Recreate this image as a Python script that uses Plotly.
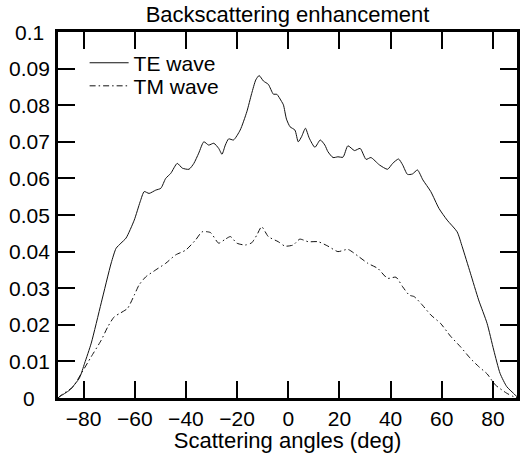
import plotly.graph_objects as go

# ---- data ----
te_angle = [-90, -89.3, -85.4, -81.6, -79.6, -77.0, -73.1, -69.2, -67.3, -65.4, -63.4,
            -60.2, -57.9, -56.3, -54.4, -51.8, -49.8, -47.9, -45.9, -43.4, -41.4, -38.8,
            -36.9, -35.0, -33.0, -31.1, -29.1, -27.2, -25.9, -24.6, -23.3, -21.4, -18.8,
            -16.2, -14.3, -12.7, -11.4, -9.7, -7.8, -5.8, -4.5, -2.6, -1.9, -0.7, 0.7,
            2.6, 3.9, 5.2, 6.7, 8.2, 10.4, 12.5, 14.3, 15.5, 17.5, 19.4, 21.4, 23.3, 25.9,
            28.1, 30.4, 32.3, 35.6, 38.8, 40.8, 43.1, 44.7, 46.6, 48.5, 50.5, 52.6, 55.7,
            58.9, 62.1, 66.0, 68.0, 71.2, 74.4, 77.7, 80.3, 82.8, 85.4, 88.0, 89.3, 90]
te_value = [0, 0.0004, 0.0022, 0.0055, 0.0095, 0.015, 0.026, 0.0369, 0.0409, 0.0423, 0.0437,
            0.0486, 0.0536, 0.0564, 0.0559, 0.0568, 0.0573, 0.0600, 0.0614, 0.0641, 0.0628, 0.0625,
            0.0641, 0.0669, 0.0700, 0.0691, 0.0696, 0.0682, 0.0666, 0.0691, 0.0708, 0.0705, 0.0732,
            0.0782, 0.0832, 0.0869, 0.0881, 0.0866, 0.0857, 0.0830, 0.0830, 0.0810, 0.0801, 0.0762, 0.0741,
            0.0732, 0.0700, 0.0714, 0.0737, 0.0710, 0.0685, 0.0705, 0.0691, 0.0673, 0.0657, 0.0659, 0.0658, 0.0689, 0.0676,
            0.0682, 0.0652, 0.0657, 0.0637, 0.0625, 0.0641, 0.0653, 0.0637, 0.0611, 0.0612, 0.0623, 0.0596, 0.0564,
            0.0518, 0.0486, 0.0454, 0.0413, 0.0341, 0.0268, 0.0204, 0.0131, 0.0067, 0.0031, 0.0013, 0.0004, 0]

tm_angle = [-90, -88.7, -84.2, -80.9, -77.0, -73.1, -70.5, -68.0, -65.4, -62.8, -60.2, -58.3,
            -55.7, -51.8, -47.9, -44.0, -40.1, -36.2, -33.7, -30.4, -27.2, -24.6, -22.6, -20.1,
            -16.8, -14.3, -12.3, -10.4, -7.8, -3.9, -1.3, 1.9, 4.5, 7.8, 11.7, 15.5, 19.4, 23.3,
            27.2, 31.1, 35.0, 38.8, 42.1, 44.7, 47.3, 49.2, 52.4, 55.7, 59.5, 63.4, 67.3, 71.2,
            74.4, 77.7, 80.9, 85.4, 88.0, 90]
tm_value = [0, 0.0008, 0.0030, 0.0067, 0.0113, 0.0158, 0.0195, 0.0222, 0.0233, 0.0245, 0.0281, 0.0309,
            0.0331, 0.0350, 0.0368, 0.0391, 0.0404, 0.0432, 0.0454, 0.0452, 0.0423, 0.0434, 0.0441, 0.0423,
            0.0418, 0.0424, 0.0445, 0.0468, 0.0441, 0.0427, 0.0415, 0.0418, 0.0434, 0.0427, 0.0427, 0.0415, 0.0400, 0.0406,
            0.0388, 0.0368, 0.0354, 0.0327, 0.0330, 0.0304, 0.0281, 0.0277, 0.0254, 0.0227, 0.0204, 0.0169, 0.0140, 0.0108,
            0.0086, 0.0066, 0.0036, 0.0013, 0.0004, 0]

x_tickvals = [-80, -60, -40, -20, 0, 20, 40, 60, 80]
y_tickvals = [0, 0.01, 0.02, 0.03, 0.04, 0.05, 0.06, 0.07, 0.08, 0.09, 0.1]
y_ticktext = ["0", "0.01", "0.02", "0.03", "0.04", "0.05", "0.06", "0.07", "0.08", "0.09", "0.1"]

FONT = "Liberation Sans, Arial, Helvetica, sans-serif"
PLOT_W = 462

fig = go.Figure()
fig.add_trace(go.Scatter(x=te_angle, y=te_value, mode="lines", name="TE wave", legend="legend",
                         line=dict(color="#111", width=1, shape="spline", smoothing=0.6)))
fig.add_trace(go.Scatter(x=tm_angle, y=tm_value, mode="lines", name="TM wave", legend="legend2",
                         line=dict(color="#111", width=1, dash="6px,3px,1.5px,3px",
                                   shape="spline", smoothing=0.6)))

axis_common = dict(showgrid=False, zeroline=False, showline=True, linecolor="black",
                   linewidth=3, mirror="ticks", ticks="inside", ticklen=17, tickwidth=1.5,
                   tickcolor="black", tickfont=dict(family=FONT, size=21, color="black"))

# y tick labels, centred under each other as in the reference
for v, t in zip(y_tickvals, y_ticktext):
    fig.add_annotation(x=-29 / PLOT_W, xref="paper", y=v, yref="y", text=t,
                       showarrow=False, xanchor="center", yanchor="middle",
                       font=dict(family=FONT, size=21, color="black"))

legend_common = dict(xanchor="left", yanchor="top", bgcolor="rgba(0,0,0,0)",
                     font=dict(family=FONT, size=21, color="black"), itemwidth=39)

fig.update_layout(
    width=520, height=453,
    margin=dict(l=58, r=0, t=32, b=55),
    paper_bgcolor="white", plot_bgcolor="white",
    font=dict(family=FONT, color="black", size=21),
    title=dict(text="Backscattering enhancement", x=0.553, xanchor="center",
               y=0.968, yanchor="middle", yref="container",
               font=dict(family=FONT, size=22, color="black")),
    xaxis=dict(range=[-90, 89.4], tickmode="array", tickvals=x_tickvals,
               title=dict(text="Scattering angles (deg)", standoff=0,
                          font=dict(family=FONT, size=22, color="black")),
               **axis_common),
    yaxis=dict(range=[0, 0.1], tickmode="array", tickvals=y_tickvals,
               showticklabels=False, **axis_common),
    legend=dict(x=0.058, y=0.971, **legend_common),
    legend2=dict(x=0.058, y=0.908, **legend_common),
    showlegend=True,
)

fig.write_html("out.html")
